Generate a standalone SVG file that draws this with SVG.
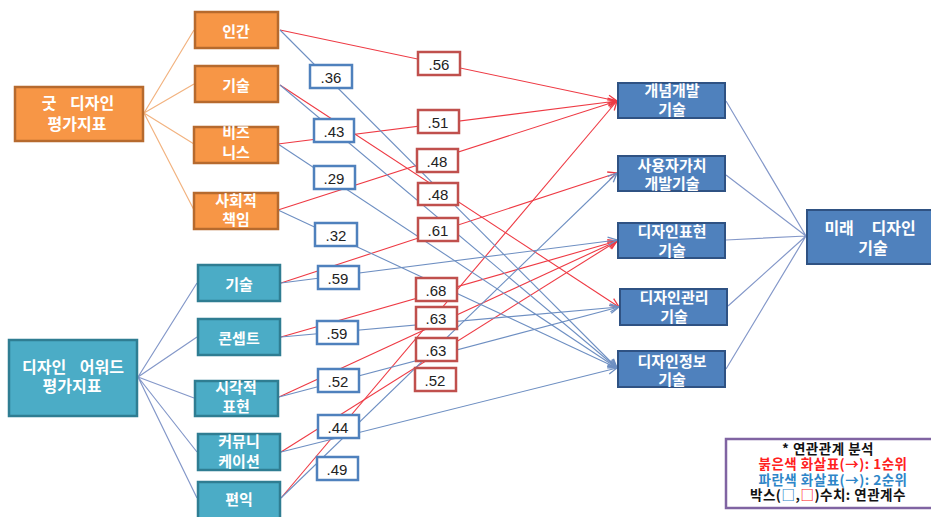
<svg xmlns="http://www.w3.org/2000/svg" width="931" height="517" viewBox="0 0 931 517">
<style>
.t{font-family:"Noto Sans CJK KR","Noto Sans",sans-serif;font-weight:bold;fill:#fff;text-anchor:middle;dominant-baseline:central}
.f15{font-size:15px}
.f16{font-size:16px;word-spacing:10px}
.or{fill:#f79646;stroke:#b66a2e;stroke-width:2.5}
.tl{fill:#4bacc6;stroke:#2f7d92;stroke-width:2.5}
.bl{fill:#4f81bd;stroke:#2f5283;stroke-width:2}
.lr{fill:#fff;stroke:#c0504d;stroke-width:2.5}
.lb{fill:#fff;stroke:#4f81bd;stroke-width:2.5}
.lt{font-family:"Liberation Sans",Arial,sans-serif;font-size:15px;fill:#222;text-anchor:middle;dominant-baseline:central}
.hubo{stroke:#f2b380;stroke-width:1.2;fill:none}
.hubb{stroke:#8498c9;stroke-width:1.2;fill:none}
.r{stroke:#ee3a44;stroke-width:1.1;fill:none;marker-end:url(#ar)}
.b{stroke:#6e8fc2;stroke-width:1.1;fill:none;marker-end:url(#ab)}
.lg{font-family:"Noto Sans CJK KR","Noto Sans",sans-serif;font-weight:bold;font-size:13.5px;letter-spacing:0.5px;text-anchor:middle;dominant-baseline:central}
</style>
<defs>
<marker id="ar" markerUnits="userSpaceOnUse" markerWidth="12" markerHeight="12" refX="10" refY="5" orient="auto"><path d="M1,1 L10,5 L1,9" fill="none" stroke="#ee3a44" stroke-width="1.3"/></marker>
<marker id="ab" markerUnits="userSpaceOnUse" markerWidth="12" markerHeight="12" refX="10" refY="5" orient="auto"><path d="M1,1 L10,5 L1,9" fill="none" stroke="#6e8fc2" stroke-width="1.3"/></marker>
</defs>
<rect width="931" height="517" fill="#fff"/>
<g id="connectors">
<path class="hubo" d="M144,113 L194,30 M144,113 L194,84 M144,113 L194,144 M144,113 L194,210"/>
<path class="hubb" d="M138,377 L197,283 M138,377 L197,337 M138,377 L194,398 M138,377 L197,452 M138,377 L197,498"/>
<path class="hubb" d="M726,101 L806,236 M726,175 L806,236 M726,240 L806,236 M728,306 L806,236 M726,369 L806,236"/>
<path class="r" d="M280,30 L617,101"/>
<path class="r" d="M280,85 L619,307"/>
<path class="r" d="M278,144 L617,101"/>
<path class="r" d="M278,210 L617,101"/>
<path class="r" d="M281,283 L617,173"/>
<path class="r" d="M281,337 L617,241"/>
<path class="r" d="M279,397 L617,241"/>
<path class="r" d="M281,452 L617,241"/>
<path class="r" d="M281,498 L617,101"/>
<path class="b" d="M280,30 L617,368"/>
<path class="b" d="M280,85 L617,368"/>
<path class="b" d="M278,144 L617,368"/>
<path class="b" d="M278,210 L617,368"/>
<path class="b" d="M281,283 L617,240"/>
<path class="b" d="M281,337 L619,307"/>
<path class="b" d="M279,397 L619,307"/>
<path class="b" d="M281,452 L617,368"/>
<path class="b" d="M281,498 L617,173"/>
</g>
<g id="good-design"><rect class="or" x="15" y="87" width="128" height="54"/><text class="t f16" x="78" y="102">굿 디자인</text><text class="t f16" x="77" y="123">평가지표</text></g>
<g id="o-human"><rect class="or" x="195" y="12" width="83" height="36"/><text class="t f15" x="236" y="30">인간</text></g>
<g id="o-tech"><rect class="or" x="195" y="66" width="83" height="36"/><text class="t f15" x="236" y="84">기술</text></g>
<g id="o-biz"><rect class="or" x="194" y="127" width="84" height="36"/><text class="t f15" x="236" y="131">비즈</text><text class="t f15" x="236" y="151">니스</text></g>
<g id="o-social"><rect class="or" x="194" y="193" width="84" height="36"/><text class="t f15" x="236" y="199">사회적</text><text class="t f15" x="236" y="218">책임</text></g>
<g id="award"><rect class="tl" x="9" y="340" width="128" height="76"/><text class="t f16" x="73" y="366">디자인 어워드</text><text class="t f16" x="72" y="385">평가지표</text></g>
<g id="t-tech"><rect class="tl" x="198" y="265" width="82" height="36"/><text class="t f15" x="239" y="283">기술</text></g>
<g id="t-concept"><rect class="tl" x="198" y="319" width="82" height="36"/><text class="t f15" x="239" y="337">콘셉트</text></g>
<g id="t-visual"><rect class="tl" x="195" y="381" width="83" height="35"/><text class="t f15" x="236" y="386">시각적</text><text class="t f15" x="236" y="405">표현</text></g>
<g id="t-comm"><rect class="tl" x="198" y="434" width="82" height="36"/><text class="t f15" x="239" y="440">커뮤니</text><text class="t f15" x="239" y="460">케이션</text></g>
<g id="t-benefit"><rect class="tl" x="198" y="482" width="82" height="40"/><text class="t f15" x="239" y="498">편익</text></g>
<g id="b-concept"><rect class="bl" x="618" y="83" width="107" height="35"/><text class="t f15" x="672" y="89">개념개발</text><text class="t f15" x="672" y="108">기술</text></g>
<g id="b-user"><rect class="bl" x="618" y="156" width="107" height="35"/><text class="t f15" x="672" y="164">사용자가치</text><text class="t f15" x="672" y="182">개발기술</text></g>
<g id="b-express"><rect class="bl" x="618" y="223" width="107" height="35"/><text class="t f15" x="672" y="230">디자인표현</text><text class="t f15" x="672" y="249">기술</text></g>
<g id="b-manage"><rect class="bl" x="620" y="289" width="107" height="36"/><text class="t f15" x="674" y="296">디자인관리</text><text class="t f15" x="674" y="315">기술</text></g>
<g id="b-info"><rect class="bl" x="618" y="351" width="107" height="36"/><text class="t f15" x="672" y="360">디자인정보</text><text class="t f15" x="672" y="378">기술</text></g>
<g id="future"><rect class="bl" x="807" y="210" width="126" height="54"/><text class="t f16" x="870" y="227" style="word-spacing:14px">미래 디자인</text><text class="t f16" x="873" y="247">기술</text></g>
<g id="labels">
<rect class="lb" x="310" y="65" width="42" height="23"/><text class="lt" x="331" y="77">.36</text>
<rect class="lb" x="314" y="119" width="40" height="23"/><text class="lt" x="334" y="131">.43</text>
<rect class="lb" x="314" y="166" width="41" height="23"/><text class="lt" x="334" y="178">.29</text>
<rect class="lb" x="315" y="223" width="42" height="23"/><text class="lt" x="336" y="235">.32</text>
<rect class="lb" x="318" y="266" width="41" height="23"/><text class="lt" x="338" y="278">.59</text>
<rect class="lb" x="317" y="321" width="41" height="23"/><text class="lt" x="337" y="333">.59</text>
<rect class="lb" x="318" y="369" width="41" height="23"/><text class="lt" x="338" y="381">.52</text>
<rect class="lb" x="318" y="415" width="41" height="23"/><text class="lt" x="338" y="427">.44</text>
<rect class="lb" x="317" y="457" width="41" height="23"/><text class="lt" x="337" y="469">.49</text>
<rect class="lr" x="418" y="52" width="42" height="23"/><text class="lt" x="439" y="64">.56</text>
<rect class="lr" x="418" y="110" width="41" height="23"/><text class="lt" x="438" y="122">.51</text>
<rect class="lr" x="417" y="149" width="41" height="23"/><text class="lt" x="437" y="161">.48</text>
<rect class="lr" x="418" y="183" width="40" height="22"/><text class="lt" x="438" y="194">.48</text>
<rect class="lr" x="418" y="218" width="40" height="23"/><text class="lt" x="438" y="230">.61</text>
<rect class="lr" x="416" y="278" width="41" height="23"/><text class="lt" x="436" y="290">.68</text>
<rect class="lr" x="416" y="307" width="41" height="22"/><text class="lt" x="436" y="318">.63</text>
<rect class="lr" x="416" y="338" width="41" height="23"/><text class="lt" x="436" y="350">.63</text>
<rect class="lr" x="415" y="368" width="41" height="23"/><text class="lt" x="435" y="380">.52</text>
</g>
<g id="legend">
<rect x="726" y="439" width="210" height="69" fill="#fff" stroke="#8064a2" stroke-width="2.5"/>
<text class="lg" x="828" y="448" fill="#111">* 연관관계 분석</text>
<text class="lg" x="833" y="463" fill="#ff2020">붉은색 화살표(→): 1순위</text>
<text class="lg" x="833" y="479" fill="#2e86c8">파란색 화살표(→): 2순위</text>
<text class="lg" x="828" y="494" fill="#111">박스(<tspan fill="#2e86c8">□</tspan>,<tspan fill="#ff2020">□</tspan>)수치: 연관계수</text>
</g>
</svg>
